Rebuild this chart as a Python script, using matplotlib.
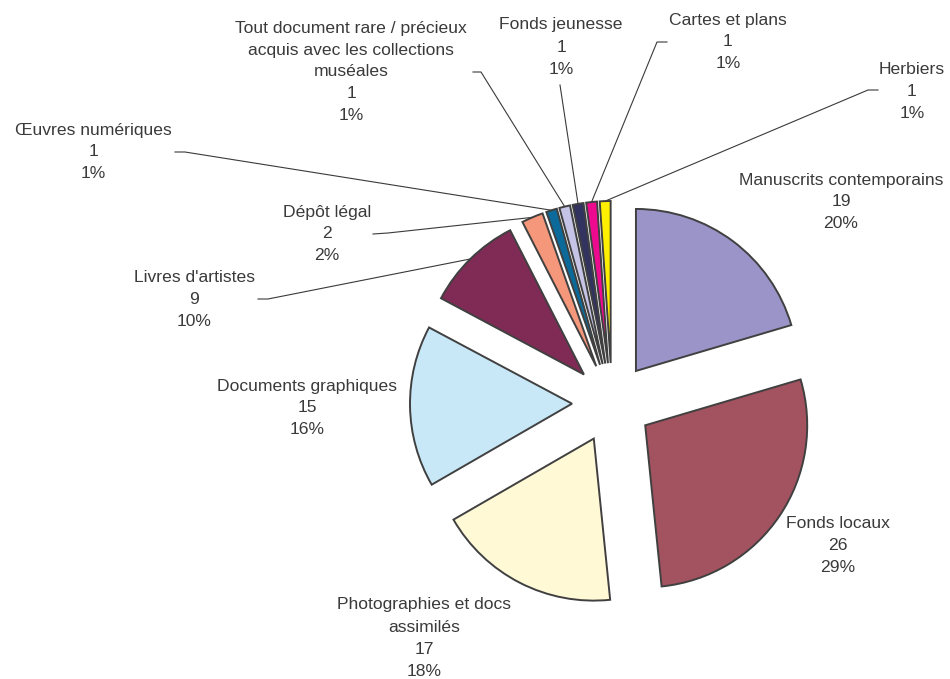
import numpy as np
import matplotlib
matplotlib.use("Agg")
import matplotlib.pyplot as plt

# Data (clockwise from 12 o'clock)
categories = ["Manuscrits contemporains", "Fonds locaux", "Photographies et docs\nassimilés",
              "Documents graphiques", "Livres d'artistes", "Dépôt légal", "Œuvres numériques",
              "Tout document rare / précieux\nacquis avec les collections\nmuséales",
              "Fonds jeunesse", "Cartes et plans", "Herbiers"]
counts = [19, 26, 17, 15, 9, 2, 1, 1, 1, 1, 1]
percent_labels = ["20%", "29%", "18%", "16%", "10%", "2%", "1%", "1%", "1%", "1%", "1%"]
colors = ["#9A94C8", "#A3525F", "#FFF9D6", "#C8E8F8", "#7F2B55", "#F4977A",
          "#0B6A9A", "#C5C3E6", "#33335F", "#EE0A8F", "#FFF000"]

W, H = 950, 679
text_color = "#3a3a3a"
line_color = "#3a3a3a"

# label block centres (pixels, y down) and leader-line start points
label_pos = [(841, 202), (838, 545), (424, 638), (307, 408), (194, 300), (327, 234),
             (93, 152), (351, 72), (561, 47), (728, 42), (912, 92)]
leader_start = [None, None, None, None,
                [(258, 299), (268, 299)],
                [(373, 234), (388, 233)],
                [(175, 152), (185, 152)],
                [(473, 72), (481, 72)],
                [(560, 85)],
                [(667, 42), (657, 42)],
                [(878, 90), (868, 90)]]

plt.rcParams['font.family'] = ['Liberation Sans', 'DejaVu Sans']

fig = plt.figure(figsize=(W / 100, H / 100), dpi=100)
fig.patch.set_facecolor('white')
ax = fig.add_axes([0, 0, 1, 1])

radius = 162
wedges, _ = ax.pie(counts, colors=colors, startangle=90, counterclock=False,
                   center=(612, H - 403), radius=radius, explode=[40] * len(counts),
                   wedgeprops=dict(edgecolor='#404040', linewidth=1.4), frame=True)
ax.set_xlim(0, W)
ax.set_ylim(0, H)
ax.set_aspect('equal')
ax.axis('off')

line_h = 22
for i, w in enumerate(wedges):
    lines = categories[i].split("\n") + [str(counts[i]), percent_labels[i]]
    cx, cy = label_pos[i]
    n = len(lines)
    for j, t in enumerate(lines):
        yy = cy + (j - (n - 1) / 2) * line_h
        ax.text(cx, H - yy, t, ha='center', va='center', fontsize=12.6, color=text_color)
    # leader line to the middle of the slice's outer arc
    if leader_start[i] is not None:
        tm = np.deg2rad((w.theta1 + w.theta2) / 2)
        ex = w.center[0] + w.r * np.cos(tm)
        ey = w.center[1] + w.r * np.sin(tm)
        xs = [p[0] for p in leader_start[i]] + [ex]
        ys = [H - p[1] for p in leader_start[i]] + [ey]
        ax.plot(xs, ys, color=line_color, lw=0.8, zorder=0)

fig.savefig("out.png", dpi=100, facecolor='white')
